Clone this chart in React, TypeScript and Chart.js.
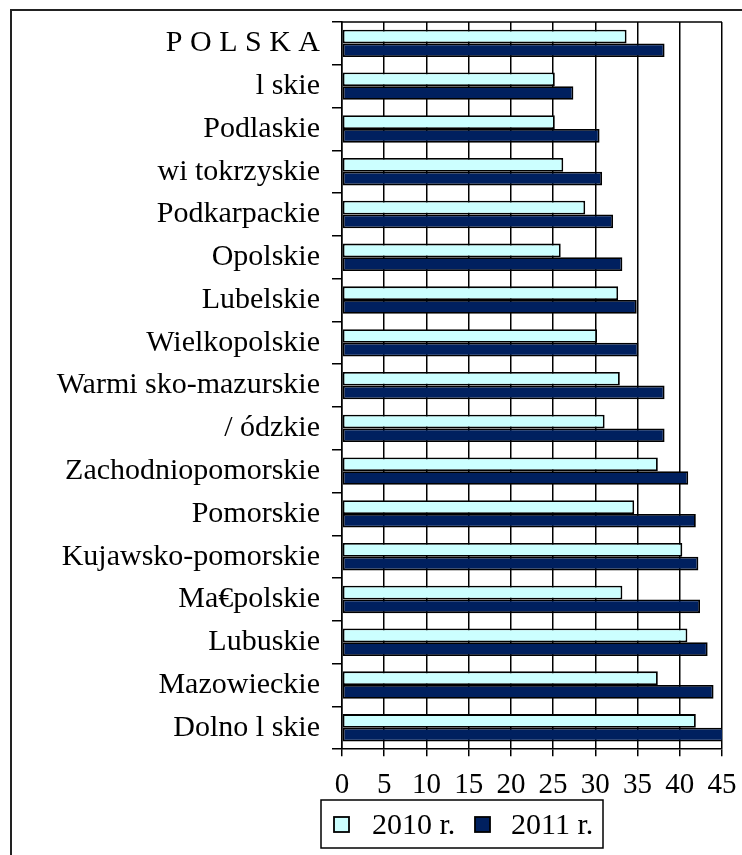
import React, { useEffect, useRef } from "react";
import { Chart, registerables } from "chart.js";

Chart.register(...registerables);

const categories = [
  "P O L S K A",
  "l skie",
  "Podlaskie",
  "wi tokrzyskie",
  "Podkarpackie",
  "Opolskie",
  "Lubelskie",
  "Wielkopolskie",
  "Warmi sko-mazurskie",
  "/ ódzkie",
  "Zachodniopomorskie",
  "Pomorskie",
  "Kujawsko-pomorskie",
  "Ma€polskie",
  "Lubuskie",
  "Mazowieckie",
  "Dolno l skie",
];

const values2010 = [33.7, 25.2, 25.2, 26.2, 28.8, 25.9, 32.7, 30.2, 32.9, 31.1, 37.4, 34.6, 40.3, 33.2, 40.9, 37.4, 41.9];
const values2011 = [38.2, 27.4, 30.5, 30.8, 32.1, 33.2, 34.9, 35.1, 38.2, 38.2, 41.0, 41.9, 42.2, 42.4, 43.3, 44.0, 45.4];

const seriesLabels = ["2010 r.", "2011 r."];
const xTicks = [0, 5, 10, 15, 20, 25, 30, 35, 40, 45];

const FONT = "'Liberation Serif', 'Times New Roman', serif";
const LIGHT = "#CCFFFF";
const NAVY = "#00205F";

export default function App() {
  const ref = useRef<HTMLCanvasElement>(null);

  useEffect(() => {
    if (!ref.current) return;

    const decor = {
      id: "decor",
      afterDraw(chart: any) {
        const ctx = chart.ctx as CanvasRenderingContext2D;
        const a = chart.chartArea;
        ctx.save();
        // outer frame
        ctx.strokeStyle = "#222";
        ctx.lineWidth = 2;
        ctx.beginPath();
        ctx.moveTo(11, 860);
        ctx.lineTo(11, 10);
        ctx.lineTo(750, 10);
        ctx.stroke();
        // top border of plot area
        ctx.strokeStyle = "#000";
        ctx.lineWidth = 1.5;
        ctx.beginPath();
        ctx.moveTo(a.left, a.top);
        ctx.lineTo(a.right, a.top);
        ctx.stroke();
        // legend box
        const bx = 321, by = 800, bw = 282, bh = 48;
        ctx.lineWidth = 1.5;
        ctx.strokeRect(bx, by, bw, bh);
        const items = chart.data.datasets.map((d: any) => ({ label: d.label, color: d.backgroundColor }));
        const sq = [334, 475];
        const tx = [372, 511];
        ctx.font = `30px ${FONT}`;
        ctx.textBaseline = "middle";
        ctx.textAlign = "left";
        items.forEach((it: any, i: number) => {
          ctx.fillStyle = it.color;
          ctx.fillRect(sq[i], 817, 15, 15);
          ctx.strokeStyle = "#000";
          ctx.lineWidth = 1.8;
          ctx.strokeRect(sq[i], 817, 15, 15);
          ctx.fillStyle = "#000";
          ctx.fillText(it.label, tx[i], 826);
        });
        ctx.restore();
      },
    };

    const chart = new Chart(ref.current, {
      type: "bar",
      data: {
        labels: categories,
        datasets: [
          {
            label: seriesLabels[0],
            data: values2010,
            backgroundColor: LIGHT,
            borderColor: "#000",
            borderWidth: 1.8,
            borderSkipped: false,
            barPercentage: 1,
            categoryPercentage: 0.64,
          },
          {
            label: seriesLabels[1],
            data: values2011,
            backgroundColor: NAVY,
            borderColor: "#000",
            borderWidth: 1.8,
            borderSkipped: false,
            barPercentage: 1,
            categoryPercentage: 0.64,
          },
        ],
      },
      options: {
        indexAxis: "y",
        responsive: false,
        animation: false,
        devicePixelRatio: 1,
        layout: { padding: { top: 22, right: 20, bottom: 40, left: 0 } },
        plugins: {
          legend: { display: false },
          tooltip: { enabled: false },
        },
        scales: {
          x: {
            type: "linear",
            min: 0,
            max: 45,
            afterBuildTicks: (scale: any) => {
              scale.ticks = xTicks.map((v) => ({ value: v }));
            },
            afterFit: (scale: any) => {
              scale.paddingLeft = 0;
              scale.paddingRight = 0;
            },
            ticks: {
              color: "#000",
              font: { family: FONT, size: 29 },
              padding: 12,
              maxRotation: 0,
              autoSkip: false,
            },
            grid: {
              color: "#000",
              lineWidth: 1.5,
              tickLength: 7,
              drawTicks: true,
            },
            border: { display: true, color: "#000", width: 1.5 },
          },
          y: {
            type: "category",
            afterFit: (scale: any) => {
              scale.width = 342;
              scale.paddingTop = 0;
              scale.paddingBottom = 0;
            },
            ticks: {
              color: "#000",
              font: { family: FONT, size: 30 },
              padding: 12,
              autoSkip: false,
            },
            grid: {
              drawOnChartArea: false,
              color: "#000",
              lineWidth: 1.5,
              tickLength: 10,
              offset: true,
            },
            border: { display: true, color: "#000", width: 1.5 },
          },
        },
      },
      plugins: [decor],
    } as any);

    return () => chart.destroy();
  }, []);

  return (
    <canvas
      ref={ref}
      width={742}
      height={855}
      style={{ position: "fixed", left: 0, top: 0, display: "block" }}
    />
  );
}
